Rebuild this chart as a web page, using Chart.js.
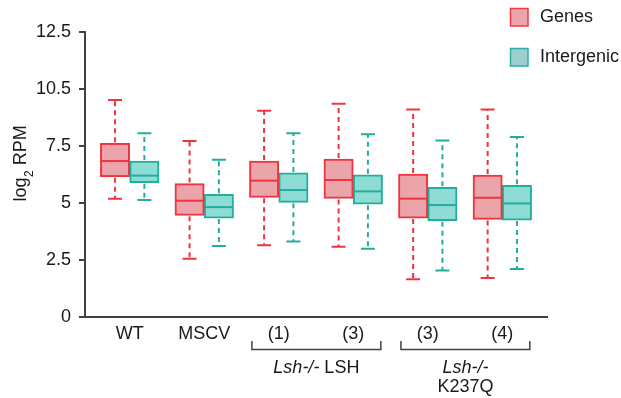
<!DOCTYPE html>
<html><head><meta charset="utf-8">
<script src="https://cdn.jsdelivr.net/npm/chart.js@4/dist/chart.umd.min.js"></script>
<style>html,body{margin:0;padding:0;background:#fff}#wrap{width:621px;height:398px;position:relative}</style>
</head><body><div id="wrap"><canvas id="c"></canvas></div>
<script>
const categories = ['WT', 'MSCV', '(1)', '(3)', '(3)', '(4)'];
const yTickLabels = ['0', '2.5', '5', '7.5', '10.5', '12.5'];
const seriesNames = ['Genes', 'Intergenic'];

const genesMin    = [5.19, 2.55, 3.15, 3.08, 1.66, 1.71];
const genesQ1     = [6.15, 4.46, 5.25, 5.20, 4.34, 4.28];
const genesMedian = [6.84, 5.10, 5.98, 6.01, 5.19, 5.23];
const genesQ3     = [7.62, 5.85, 6.84, 6.93, 6.27, 6.23];
const genesMax    = [9.52, 7.72, 9.05, 9.35, 9.10, 9.10];

const interMin    = [5.13, 3.11, 3.31, 2.99, 2.04, 2.10];
const interQ1     = [5.89, 4.34, 5.03, 4.95, 4.22, 4.25];
const interMedian = [6.20, 4.82, 5.57, 5.51, 4.91, 4.98];
const interQ3     = [6.84, 5.38, 6.32, 6.24, 5.69, 5.78];
const interMax    = [8.06, 6.90, 8.06, 8.02, 7.74, 7.90];

const bracketFrom = [2, 4];
const bracketTo   = [3, 5];
const bracketItalic = ['Lsh-/-', 'Lsh-/-'];
const bracketPlain  = [' LSH', ''];
const bracketSecondLine = ['', 'K237Q'];

const FONT = "'Liberation Sans', Arial, Helvetica, sans-serif";
const TEXT = '#1a1a1a';
const AXIS = '#404040';
const genesFill = '#EBA4AA', genesStroke = '#EE3440';
const interFill = '#8EDDD4', interStroke = '#22AD9E';

Chart.defaults.font.family = FONT;
Chart.defaults.color = TEXT;

const stats = [
  {min: genesMin, q1: genesQ1, med: genesMedian, q3: genesQ3, max: genesMax, color: genesStroke},
  {min: interMin, q1: interQ1, med: interMedian, q3: interQ3, max: interMax, color: interStroke}
];

const boxPlugin = {
  id: 'boxes',
  afterDatasetsDraw(chart) {
    const ctx = chart.ctx, ys = chart.scales.y;
    const py = v => ys.getPixelForValue(v);
    stats.forEach((st, di) => {
      const meta = chart.getDatasetMeta(di);
      meta.data.forEach((bar, i) => {
        const x = bar.x, half = bar.width / 2;
        ctx.save();
        ctx.strokeStyle = st.color;
        ctx.lineWidth = 2;
        ctx.beginPath();
        ctx.moveTo(x - half + 1, py(st.med[i]));
        ctx.lineTo(x + half - 1, py(st.med[i]));
        ctx.stroke();
        ctx.setLineDash([5, 4]);
        ctx.beginPath();
        ctx.moveTo(x, py(st.q3[i]) - 1); ctx.lineTo(x, py(st.max[i]));
        ctx.moveTo(x, py(st.q1[i]) + 1); ctx.lineTo(x, py(st.min[i]));
        ctx.stroke();
        ctx.setLineDash([]);
        ctx.beginPath();
        ctx.moveTo(x - 7, py(st.max[i])); ctx.lineTo(x + 7, py(st.max[i]));
        ctx.moveTo(x - 7, py(st.min[i])); ctx.lineTo(x + 7, py(st.min[i]));
        ctx.stroke();
        ctx.restore();
      });
    });
  }
};

const decoPlugin = {
  id: 'deco',
  afterDraw(chart) {
    const ctx = chart.ctx, xs = chart.scales.x, area = chart.chartArea;
    // y axis title with subscript
    ctx.save();
    ctx.translate(25.5, 201.5);
    ctx.rotate(-Math.PI / 2);
    ctx.fillStyle = TEXT;
    ctx.textBaseline = 'alphabetic';
    ctx.textAlign = 'left';
    ctx.font = '18px ' + FONT;
    ctx.fillText('log', 0, 0);
    let w = ctx.measureText('log').width;
    ctx.font = '12px ' + FONT;
    ctx.fillText('2', w + 0.5, 7);
    w += ctx.measureText('2').width + 0.5;
    ctx.font = '18px ' + FONT;
    ctx.fillText(' RPM', w, 0);
    ctx.restore();

    // legend
    const legFill = ['#EBA5AB', '#9DCFCF'];
    const legStroke = ['#EE3B46', '#2BB0A5'];
    const legY = [8.5, 48.5];
    ctx.save();
    seriesNames.forEach((name, i) => {
      ctx.fillStyle = legFill[i];
      ctx.fillRect(510.5, legY[i], 17.5, 17.5);
      ctx.strokeStyle = legStroke[i];
      ctx.lineWidth = 1.5;
      ctx.strokeRect(510.5, legY[i], 17.5, 17.5);
      ctx.fillStyle = TEXT;
      ctx.font = '18px ' + FONT;
      ctx.textBaseline = 'middle';
      ctx.textAlign = 'left';
      ctx.fillText(name, 540, legY[i] + 9);
    });
    ctx.restore();

    // group brackets
    ctx.save();
    const b = area.bottom;
    bracketFrom.forEach((f, k) => {
      const x1 = xs.getPixelForValue(f - 0.36);
      const x2 = xs.getPixelForValue(bracketTo[k] + 0.37);
      ctx.strokeStyle = AXIS;
      ctx.lineWidth = 1.5;
      ctx.beginPath();
      ctx.moveTo(x1, b + 24); ctx.lineTo(x1, b + 32.5);
      ctx.lineTo(x2, b + 32.5); ctx.lineTo(x2, b + 24);
      ctx.stroke();
      const cx = (x1 + x2) / 2;
      ctx.fillStyle = TEXT;
      ctx.textBaseline = 'alphabetic';
      ctx.textAlign = 'left';
      ctx.font = 'italic 18px ' + FONT;
      const wi = ctx.measureText(bracketItalic[k]).width;
      ctx.font = '18px ' + FONT;
      const wp = ctx.measureText(bracketPlain[k]).width;
      let sx = cx - (wi + wp) / 2;
      ctx.font = 'italic 18px ' + FONT;
      ctx.fillText(bracketItalic[k], sx, b + 55.5);
      ctx.font = '18px ' + FONT;
      ctx.fillText(bracketPlain[k], sx + wi, b + 55.5);
      if (bracketSecondLine[k]) {
        ctx.textAlign = 'center';
        ctx.fillText(bracketSecondLine[k], cx, b + 75);
      }
    });
    ctx.restore();
  }
};

new Chart(document.getElementById('c'), {
  type: 'bar',
  data: {
    datasets: [
      {
        label: seriesNames[0],
        data: categories.map((c, i) => ({x: i, y: [genesQ1[i], genesQ3[i]]})),
        backgroundColor: genesFill, borderColor: genesStroke, borderWidth: 2, borderSkipped: false
      },
      {
        label: seriesNames[1],
        data: categories.map((c, i) => ({x: i, y: [interQ1[i], interQ3[i]]})),
        backgroundColor: interFill, borderColor: interStroke, borderWidth: 2, borderSkipped: false
      }
    ]
  },
  options: {
    responsive: true,
    maintainAspectRatio: false,
    animation: false,
    barThickness: 29.3,
    layout: {padding: {top: 32, right: 74, bottom: 0, left: 0}},
    plugins: {legend: {display: false}, tooltip: {enabled: false}},
    scales: {
      x: {
        type: 'linear', min: -0.6, max: 5.6, offset: false,
        afterBuildTicks: s => { s.ticks = categories.map((c, i) => ({value: i})); },
        afterFit: s => { s.height = 81; },
        ticks: {
          callback: v => categories[Math.round(v)],
          autoSkip: false, maxRotation: 0, font: {size: 18}, color: TEXT, padding: 6
        },
        grid: {display: false, drawTicks: false},
        border: {display: true, color: AXIS, width: 2}
      },
      y: {
        min: 0, max: 12.5,
        afterFit: s => { s.width = 85; },
        ticks: {
          stepSize: 2.5,
          callback: (v, i) => yTickLabels[i],
          font: {size: 18}, color: TEXT, padding: 8
        },
        grid: {drawOnChartArea: false, drawTicks: true, tickLength: 6, color: AXIS, lineWidth: 2},
        border: {display: true, color: AXIS, width: 2}
      }
    }
  },
  plugins: [boxPlugin, decoPlugin]
});
</script></body></html>
